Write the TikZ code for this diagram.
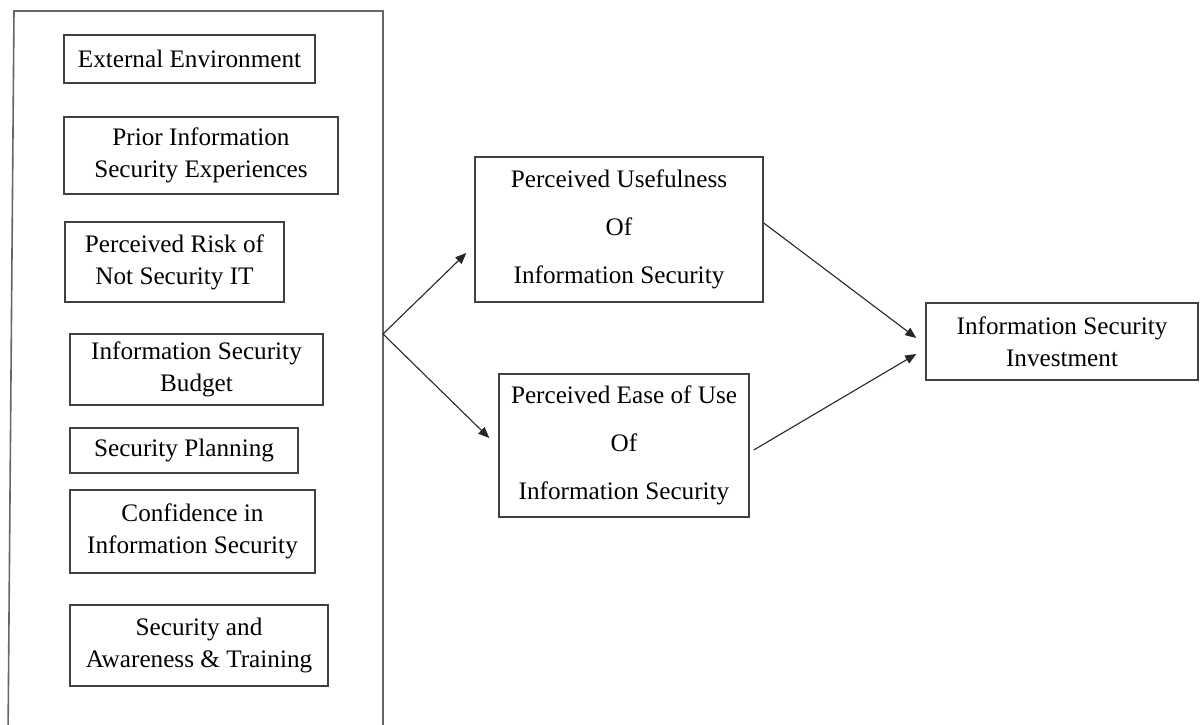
\documentclass[tikz,border=0pt]{standalone}
\usepackage{fontspec}
\setmainfont{Liberation Serif}
\usetikzlibrary{arrows.meta}
\begin{document}
\begin{tikzpicture}[x=0.5pt,y=-0.5pt,
  box/.style={draw=black!75, line width=0.75pt, inner sep=0pt, align=center,
    font=\fontsize{12.6}{16}\selectfont},
  widebox/.style={box, font=\fontsize{12.6}{24}\selectfont},
  link/.style={draw=black!85, line width=0.55pt,
    -{Triangle[length=5.5pt,width=4.5pt]}}]
\useasboundingbox (0,0) rectangle (1203,724);
% rectangle node from its left, top, right and bottom edges
\newcommand\boxat[7][box]{%
  \node[#1, minimum width={(#5-#3)*0.5pt}, minimum height={(#6-#4)*0.5pt}]
    (#2) at ({(#3+#5)/2},{(#4+#6)/2}) {#7};}
% enclosing frame of the antecedent factors (bottom edge runs off the page)
\draw[black!60, line width=0.8pt] (8,740) -- (14,11) -- (383,11) -- (383,740);
\coordinate (junction) at (383,334);
% antecedent factors
\boxat{ee}{64}{35}{315}{83}{External Environment}
\boxat{pise}{64}{117}{338}{194}{Prior Information\\Security Experiences}
\boxat{pr}{65}{222}{284}{302}{Perceived Risk of\\Not Security IT}
\boxat{isb}{70}{334}{323}{405}{Information Security\\Budget}
\boxat{sp}{70}{428}{298}{473}{Security Planning}
\boxat{cis}{70}{490}{315}{573}{Confidence in\\Information Security}
\boxat{sat}{70}{605}{328}{686}{Security and\\Awareness \& Training}
% perceptions
\boxat[widebox]{pu}{475}{157}{763}{302}{Perceived Usefulness\\Of\\Information Security}
\boxat[widebox]{peou}{499}{374}{749}{517}{Perceived Ease of Use\\Of\\Information Security}
% outcome
\boxat{isi}{926}{303}{1198}{380}{Information Security\\Investment}
% connectors
\draw[link] (junction) -- ([shift={(-8,23.5)}]pu.west);
\draw[link] (junction) -- ([shift={(-9,-7.5)}]peou.west);
\draw[link] ([shift={(0,-6.5)}]pu.east) -- ([shift={(-9,-3.5)}]isi.west);
\draw[link] ([shift={(4,4.5)}]peou.east) -- ([shift={(-9,12.5)}]isi.west);
\end{tikzpicture}
\end{document}
